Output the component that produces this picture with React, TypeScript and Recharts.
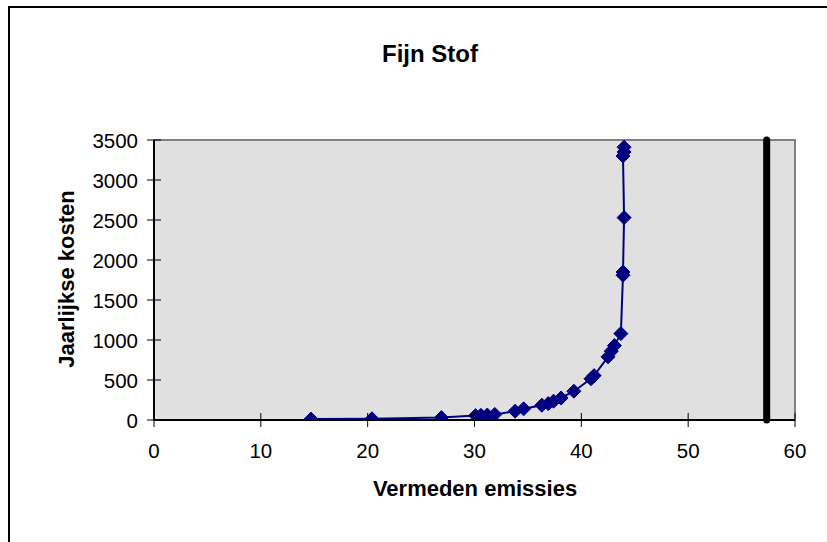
import {
  ComposedChart,
  Line,
  XAxis,
  YAxis,
  ReferenceArea,
  ReferenceLine,
} from 'recharts';

// Vermeden emissies (x) vs jaarlijkse kosten (y)
const emissies = [
  14.7, 20.4, 26.9, 30.1, 30.6, 31.2, 31.9, 33.8, 34.6, 36.3, 36.9, 37.4, 38.1,
  39.3, 40.9, 41.2, 42.5, 42.8, 43.1, 43.7, 43.9, 43.9, 44.0, 43.9, 44.0, 44.0,
];
const kosten = [
  12, 15, 30, 55, 58, 62, 70, 110, 140, 185, 205, 235, 275, 360, 515, 555, 790,
  860, 930, 1080, 1810, 1850, 2530, 3300, 3350, 3410,
];
const xTicks = [0, 10, 20, 30, 40, 50, 60];
const yTicks = [0, 500, 1000, 1500, 2000, 2500, 3000, 3500];
const limiet = 57.35;

const chartData = emissies.map((x, i) => ({ x, y: kosten[i] }));

const FONT = 'Arial, "Liberation Sans", sans-serif';

function Diamond(props: any) {
  const { cx, cy } = props;
  if (cx == null || cy == null) return null;
  const r = 7;
  return (
    <path
      d={`M${cx},${cy - r} L${cx + r},${cy} L${cx},${cy + r} L${cx - r},${cy} Z`}
      fill="#000080"
      stroke="#000080"
    />
  );
}

function XTick(props: any) {
  const { x, y, payload } = props;
  return (
    <g>
      <line x1={x} x2={x} y1={y - 7} y2={y + 7} stroke="#000" strokeWidth={1} />
      <text x={x} y={y + 38} textAnchor="middle" fontSize={20.5} fontFamily={FONT} fill="#000">
        {payload.value}
      </text>
    </g>
  );
}

function YTick(props: any) {
  const { x, y, payload } = props;
  return (
    <g>
      <line x1={x + 9} x2={x + 23} y1={y} y2={y} stroke="#000" strokeWidth={1} />
      <text x={x} y={y + 7.5} textAnchor="end" fontSize={20.5} fontFamily={FONT} fill="#000">
        {payload.value}
      </text>
    </g>
  );
}

export default function App() {
  return (
    <div
      style={{
        position: 'absolute',
        left: 0,
        top: 0,
        width: 827,
        height: 542,
        overflow: 'hidden',
        background: '#fff',
      }}
    >
      <div
        style={{
          position: 'absolute',
          left: 8,
          top: 6,
          width: 900,
          height: 600,
          border: '2px solid #000',
        }}
      />
      <div
        style={{
          position: 'absolute',
          left: 0,
          width: 860,
          top: 40,
          textAlign: 'center',
          fontFamily: FONT,
          fontWeight: 'bold',
          fontSize: 24,
        }}
      >
        Fijn Stof
      </div>
      <div
        style={{
          position: 'absolute',
          left: 355,
          width: 240,
          top: 476,
          textAlign: 'center',
          fontFamily: FONT,
          fontWeight: 'bold',
          fontSize: 22,
          whiteSpace: 'nowrap',
        }}
      >
        Vermeden emissies
      </div>
      <div
        style={{
          position: 'absolute',
          left: 67,
          top: 279,
          transform: 'translate(-50%, -50%) rotate(-90deg)',
          fontFamily: FONT,
          fontWeight: 'bold',
          fontSize: 22,
          whiteSpace: 'nowrap',
        }}
      >
        Jaarlijkse kosten
      </div>
      <div style={{ position: 'absolute', left: 0, top: 0 }}>
        <ComposedChart
          width={827}
          height={542}
          data={chartData}
          margin={{ top: 140, right: 32, bottom: 92, left: 94 }}
        >
          <ReferenceArea
            x1={0}
            x2={60}
            y1={0}
            y2={3500}
            fill="#e0e0e0"
            fillOpacity={1}
            stroke="#808080"
            strokeWidth={2}
          />
          <XAxis
            dataKey="x"
            type="number"
            domain={[0, 60]}
            ticks={xTicks}
            interval={0}
            height={30}
            tickSize={0}
            tickMargin={0}
            tickLine={false}
            axisLine={{ stroke: '#000', strokeWidth: 2 }}
            tick={<XTick />}
            allowDataOverflow
          />
          <YAxis
            type="number"
            domain={[0, 3500]}
            ticks={yTicks}
            interval={0}
            width={60}
            tickSize={0}
            tickMargin={16}
            tickLine={false}
            axisLine={{ stroke: '#000', strokeWidth: 2 }}
            tick={<YTick />}
            allowDataOverflow
          />
          <ReferenceLine
            x={limiet}
            stroke="#000"
            strokeWidth={7}
            strokeLinecap="round"
          />
          <Line
            type="linear"
            dataKey="y"
            stroke="#000080"
            strokeWidth={2}
            dot={<Diamond />}
            activeDot={false}
            isAnimationActive={false}
          />
        </ComposedChart>
      </div>
    </div>
  );
}
